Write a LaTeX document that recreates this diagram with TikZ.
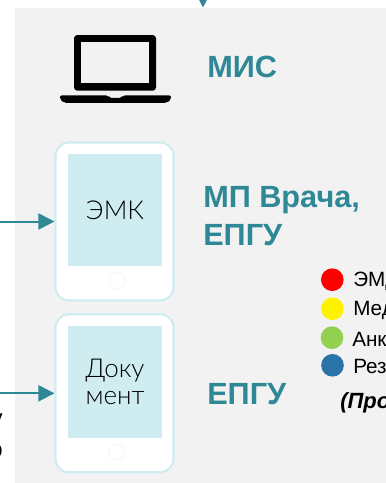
\documentclass[tikz,border=0pt]{standalone}
\usepackage{fontspec}
\setmainfont{Liberation Sans}
\newfontfamily\lightfont{Lato Light}
\usetikzlibrary{arrows.meta}
\definecolor{panelgray}{HTML}{F2F2F2}
\definecolor{tealtext}{HTML}{2E8896}
\definecolor{screenblue}{HTML}{CFEDF1}
\definecolor{dotgreen}{HTML}{92D050}
\definecolor{dotblue}{HTML}{2874A8}
\tikzset{
	px/.style={x=0.75pt,y=-0.75pt},
	flow/.style={draw=tealtext,line width=1.5pt,-{Triangle[length=12pt,width=12pt]}},
	tablet/.style={draw=screenblue,line width=1.6pt,fill=white,rounded corners=10pt,minimum width=88.5pt,minimum height=118.5pt,inner sep=0pt},
	screen/.style={fill=screenblue,minimum width=70.5pt,minimum height=84pt,inner sep=0pt,align=center,text=black,font=\lightfont\fontsize{19.5pt}{20.5pt}\selectfont},
	title/.style={text=tealtext,font=\fontsize{23pt}{28pt}\selectfont\bfseries,anchor=west,align=left,inner sep=0pt},
	dot/.style={circle,minimum size=17pt,inner sep=0pt},
	legend/.style={anchor=west,inner sep=0pt,font=\fontsize{15.5pt}{18pt}\selectfont},
	cuttext/.style={anchor=east,inner sep=0pt,font=\fontsize{18pt}{22pt}\selectfont},
}
\begin{document}
\begin{tikzpicture}[px]
	\useasboundingbox (0,0) rectangle (386,483);
	\begin{scope}
		\clip (0,0) rectangle (386,483);
		% Panel
		\fill[panelgray] (15,8) rectangle (386,483);
		% Top arrow
		\coordinate (topin) at (203,-12);
		\coordinate (topend) at (203,7.5);
		\draw[flow] (topin) -- (topend);
		% Laptop
		\fill[black,rounded corners=2.5pt] (74,90.7) -- (74,35) -- (156,35) -- (156,90.7) -- cycle;
		\fill[panelgray] (81.4,42.4) rectangle (149,83.2);
		\fill[black,rounded corners=1.5pt] (60,95.3) -- (108,95.3) -- (109,97.8) -- (122,97.8) -- (123,95.3) -- (171,95.3) -- (171,99.5) -- (167,102.8) -- (64,102.8) -- (60,99.5) -- cycle;
		\node[title] (mis) at (207,67) {МИС};
		% Tablets
		\node[tablet] (tabone) at (114.5,221.5) {};
		\node[screen] (screenone) at (115,210) {ЭМК};
		\draw[panelgray] (117,280.5) circle (8);
		\node[tablet] (tabtwo) at (114.5,393.3) {};
		\node[screen] (screentwo) at (115,382) {Доку\\мент};
		\draw[panelgray] (117,452) circle (8);
		% Arrows in
		\coordinate (inone) at (0,221.5);
		\coordinate (intwo) at (0,393.3);
		\draw[flow] (inone) -- (tabone.west);
		\draw[flow] (intwo) -- (tabtwo.west);
		\node[title] (mpv) at (203,216) {МП Врача,\\ЕПГУ};
		\node[title] (epgu) at (207,394) {ЕПГУ};
		% Legend
		\node[dot,fill=red] (dotr) at (332.3,279.7) {};
		\node[dot,fill=yellow] (doty) at (332.5,308.7) {};
		\node[dot,fill=dotgreen] (dotg) at (332,337.7) {};
		\node[dot,fill=dotblue] (dotb) at (332.5,365.3) {};
		\node[legend] (txtred) at (353,281) {ЭМД};
		\node[legend] (txtyellow) at (353,310) {Мед};
		\node[legend] (txtgreen) at (352,339) {Анк};
		\node[legend] (txtblue) at (353,366) {Рез};
		\node[legend,font=\fontsize{16.5pt}{18pt}\selectfont\bfseries\itshape] (txtpro) at (340,403) {(Про};
		% Clipped text on the left
		\node[cuttext] (cutone) at (3,423) {у};
		\node[cuttext] (cuttwo) at (3,451) {о};
	\end{scope}
\end{tikzpicture}
\end{document}
